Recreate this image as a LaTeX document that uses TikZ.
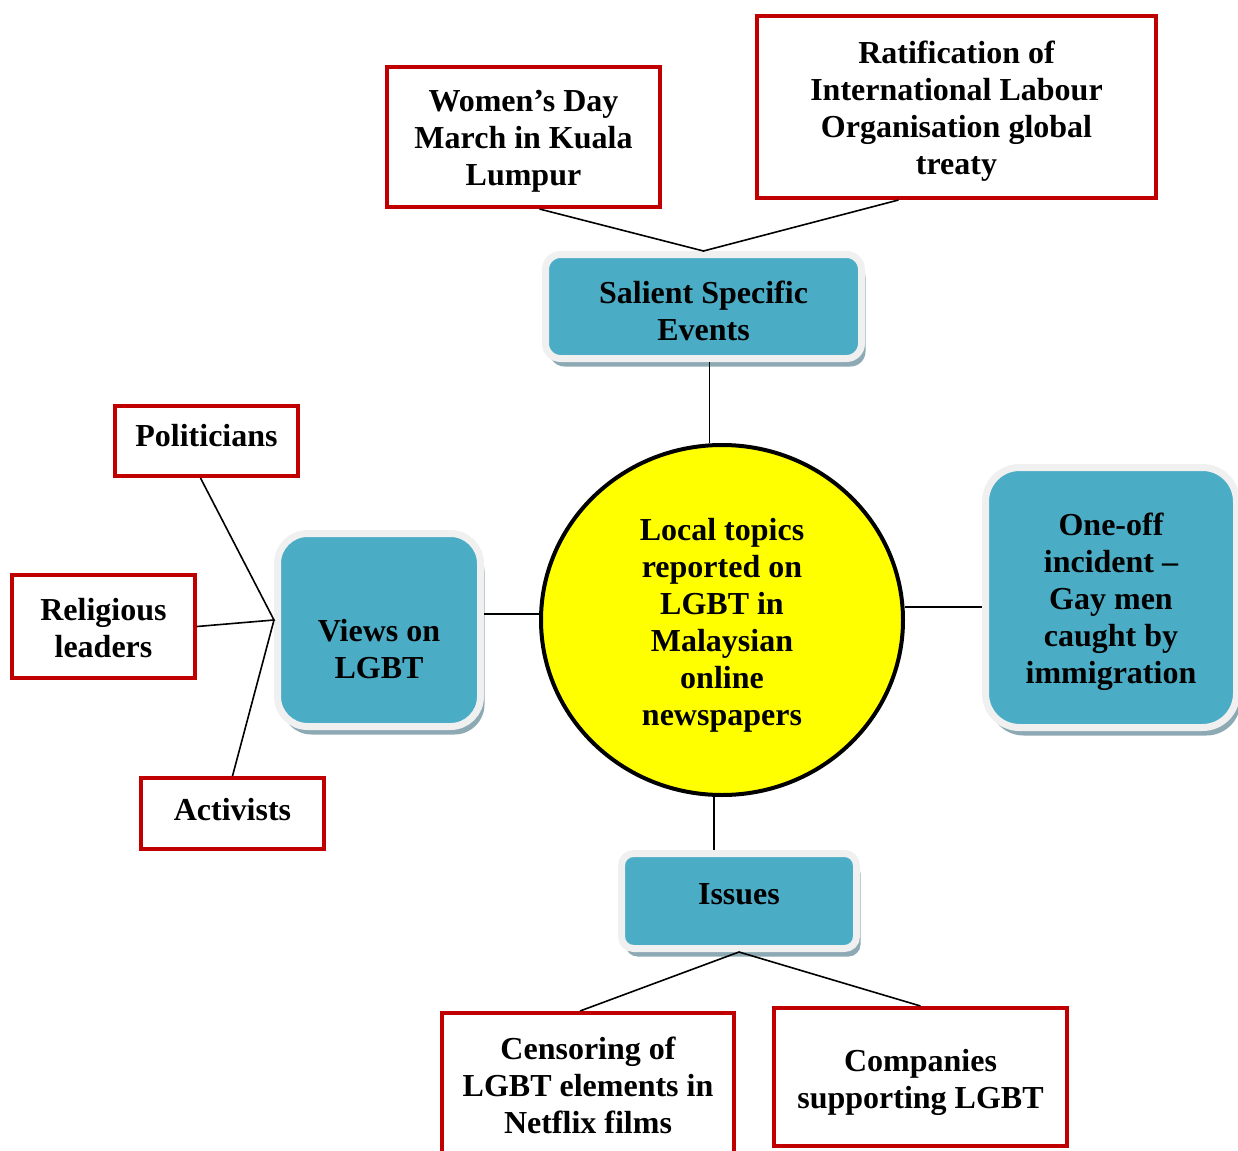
\documentclass[tikz,border=0pt]{standalone}
\usepackage{fontspec}
\setmainfont{Liberation Serif}
\usepackage{xcolor}
\usetikzlibrary{positioning,shapes,shadows}
\definecolor{cblue}{HTML}{4BACC6}
\definecolor{cred}{HTML}{C00000}
\definecolor{crim}{HTML}{F0F0F0}
\definecolor{cshadow}{HTML}{8DA9B3}
\definecolor{cyel}{HTML}{FFFF00}

\begin{document}
\begin{tikzpicture}[x=0.5pt,y=-0.5pt]
\tikzstyle{bk}=[font=\fontsize{16}{18.5}\selectfont\bfseries, align=center, inner sep=0pt]
\tikzstyle{bkred}=[bk, draw=cred, line width=2pt, fill=white]
\tikzstyle{bkblue}=[bk, fill=cblue, draw=crim, line width=3.5pt,
  drop shadow={shadow xshift=2pt, shadow yshift=-4pt, fill=cshadow, opacity=1}]
\tikzstyle{bkline}=[line width=0.8pt]

\clip (0,0) rectangle (1238,1151);

% centre topic
\node[bk, shape=ellipse, draw, line width=2pt, fill=cyel, minimum width=181pt, minimum height=175pt,
  label={[bk,yshift=-2.5pt]center:{Local topics\\reported on\\LGBT in\\Malaysian\\online\\newspapers}}]
  (cir) at (722,620) {};

% the four themes
\node[bkblue, rounded corners=7.5pt, minimum width=158pt, minimum height=52pt,
  label={[bk,yshift=-2.25pt]center:{Salient Specific\\Events}}] (sse) at (703.5,306.5) {};
\node[bkblue, rounded corners=15pt, minimum width=101.5pt, minimum height=96.5pt,
  label={[bk,yshift=-9.5pt]center:{Views on\\LGBT}}] (vie) at (379,630) {};
\node[bkblue, rounded corners=17pt, minimum width=125.5pt, minimum height=130pt,
  label={[bk,yshift=-2pt]center:{One-off\\incident --\\Gay men\\caught by\\immigration}}] (one) at (1111,597.5) {};
\node[bkblue, rounded corners=6pt, minimum width=117.5pt, minimum height=47.5pt,
  label={[bk,yshift=3.5pt]center:{Issues}}] (iss) at (739,901) {};

% the sub topics
\node[bkred, minimum width=136.5pt, minimum height=70pt,
  label={[bk,yshift=-2.25pt]center:{Women’s Day\\March in Kuala\\Lumpur}}] (wd) at (523.5,137) {};
\node[bkred, minimum width=199.5pt, minimum height=91pt,
  label={[bk,yshift=-2pt]center:{Ratification of\\International Labour\\Organisation global\\treaty}}] (ilo) at (956.5,107) {};
\node[bkred, minimum width=91.5pt, minimum height=35pt,
  label={[bk,yshift=2.5pt]center:{Politicians}}] (pol) at (206.5,441) {};
\node[bkred, minimum width=91.5pt, minimum height=51.5pt,
  label={[bk,yshift=-0.75pt]center:{Religious\\leaders}}] (rel) at (103.5,626.5) {};
\node[bkred, minimum width=91.5pt, minimum height=35.5pt,
  label={[bk,yshift=2pt]center:{Activists}}] (act) at (232.5,813.5) {};
\node[bkred, minimum width=146pt, minimum height=72pt,
  label={[bk]center:{Censoring of\\LGBT elements in\\Netflix films}}] (cen) at (588,1085) {};
\node[bkred, minimum width=146.5pt, minimum height=69pt,
  label={[bk,yshift=-2.75pt]center:{Companies\\supporting LGBT}}] (com) at (920.5,1077) {};

% connectors
\coordinate (vj) at ([yshift=5pt]vie.west);
\draw[bkline] ([xshift=8pt]wd.south) -- (sse.north) -- ([xshift=-29pt]ilo.south);
\draw[bkline] ([xshift=3pt]sse.south) -- ([xshift=3pt]sse.south |- cir.north);
\draw[bkline] ([yshift=3pt]cir.west) -- ([yshift=3pt]cir.west -| vie.east);
\draw[bkline] ([yshift=6.5pt]cir.east) -- ([yshift=6.5pt]cir.east -| one.west);
\draw[bkline] ([xshift=-4pt]cir.south) -- ([xshift=-4pt]cir.south |- iss.north);
\draw[bkline] ([xshift=-3pt]pol.south) -- (vj) -- (rel.east)
              (vj) -- (act.north);
\draw[bkline] ([xshift=-4pt]cen.north) -- (iss.south) -- (com.north);
\end{tikzpicture}
\end{document}
